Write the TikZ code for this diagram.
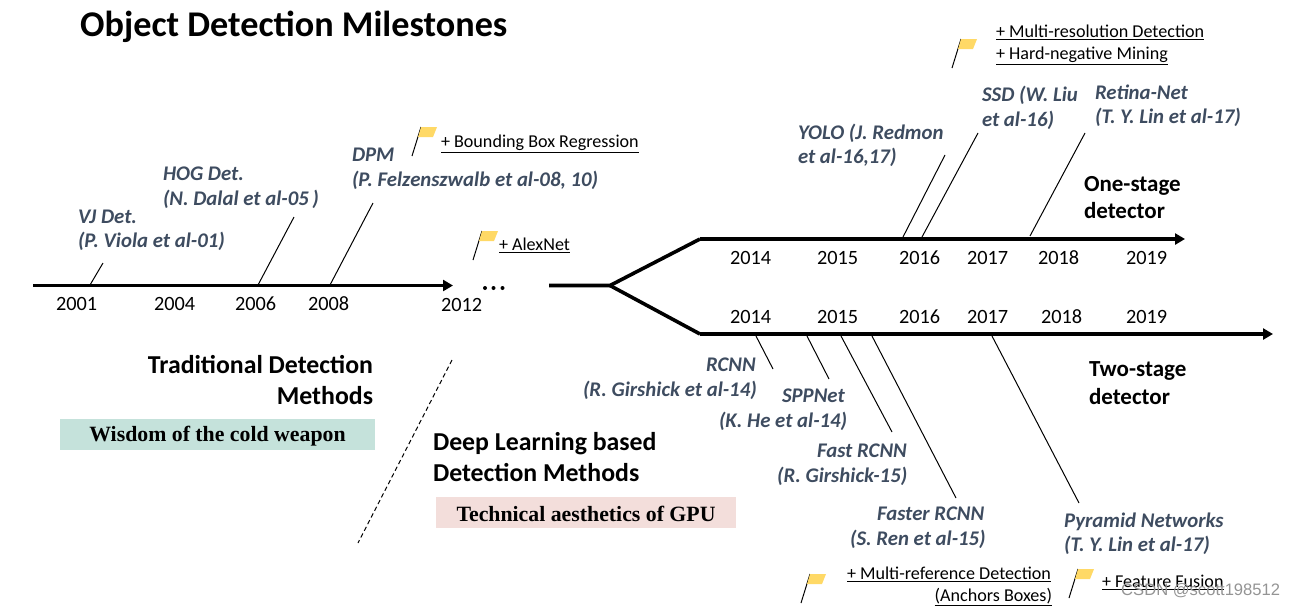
\documentclass[tikz,border=0pt]{standalone}
\usepackage{fontspec}
\setmainfont{Carlito}
\newfontfamily\serifbf{Liberation Serif}
\newfontfamily\wmfont{Liberation Sans}
\usetikzlibrary{arrows.meta}
\definecolor{slate}{HTML}{3E4C60}
\definecolor{flagc}{HTML}{FFD966}
\definecolor{bandg}{HTML}{C5E2DB}
\definecolor{bandr}{HTML}{F3DEDB}
\newcommand{\flagmark}[3]{%
  \begin{scope}[shift={(#1,#2)}]
    \coordinate (#3b) at (0,0);
    \coordinate (#3t) at (9,-29);
    \draw[lead] (#3b) -- (#3t);
    \fill[flagc] (9,-29) -- (25,-29) -- (21,-19) -- (6,-19) -- cycle;
  \end{scope}}
\tikzset{
  x=1pt,y=-1pt,
  lab/.style={anchor=base west,inner sep=0pt,outer sep=0pt,yshift=-0.7pt,text=slate,font=\fontsize{20.8}{20.8}\selectfont\bfseries\itshape},
  year/.style={anchor=base west,inner sep=0pt,outer sep=0pt,yshift=-0.7pt,font=\fontsize{20.3}{20.3}\selectfont},
  note/.style={anchor=base west,inner sep=0pt,outer sep=0pt,yshift=-0.5pt,font=\fontsize{18.1}{18.1}\selectfont},
  head/.style={anchor=base west,inner sep=0pt,outer sep=0pt,font=\fontsize{25.8}{25.8}\selectfont\bfseries},
  sub/.style={anchor=base west,inner sep=0pt,outer sep=0pt,yshift=-0.5pt,font=\fontsize{23}{23}\selectfont\bfseries},
  band/.style={anchor=center,inner sep=0pt,yshift=-1pt,font=\serifbf\fontsize{21.8}{21.8}\selectfont\bfseries},
  axis/.style={line width=3.6pt,line join=miter},
  axisarrow/.style={axis,-{Triangle[length=10pt,width=11pt]}},
  lead/.style={line width=1pt,black}
}
\begin{document}
\begin{tikzpicture}
\useasboundingbox (0,0) rectangle (1295,606);
\node[anchor=base west,inner sep=0pt,font=\fontsize{36.2}{36.2}\selectfont\bfseries] (title) at (80,36) {Object Detection Milestones};

% main axes
\coordinate (a0) at (33,285.5); \coordinate (a1) at (453,285.5);
\coordinate (b0) at (549,285.5); \coordinate (fork) at (610,285.5);
\coordinate (u0) at (700,239); \coordinate (u1) at (1185,239);
\coordinate (d0) at (700,334); \coordinate (d1) at (1273,334);
\draw[axisarrow] (a0) -- (a1);
\draw[axis] (b0) -- (fork) -- (u0);
\draw[axis] (fork) -- (d0);
\draw[axisarrow] (u0) -- (u1);
\draw[axisarrow] (d0) -- (d1);

% dots
\fill (485,288) circle (2) (493.5,288) circle (2) (502.5,288) circle (2);

% years
\foreach \n/\x/\y/\t in {y1/56/310/2001,y2/154/310/2004,y3/235/310/2006,y4/308/310/2008,y5/441/311/2012,
  y6/730/264/2014,y7/817/264/2015,y8/899/264/2016,y9/967/264/2017,y10/1038/264/2018,y11/1126/264/2019,
  y12/730/323/2014,y13/817/323/2015,y14/899/323/2016,y15/967/323/2017,y16/1041/323/2018,y17/1126/323/2019}
  \node[year] (\n) at (\x,\y) {\t};

% labels, left
\node[lab] (l1a) at (78,223) {VJ Det.};
\node[lab] (l1b) at (78,247) {(P. Viola et al-01)};
\node[lab] (l2a) at (163,180) {HOG Det.};
\node[lab] (l2b) at (163,205) {(N. Dalal et al-05\,)};
\node[lab] (l3a) at (352,161) {DPM};
\node[lab] (l3b) at (352,186) {(P. Felzenszwalb et al-08, 10)};

% labels, upper right
\node[lab] (l4a) at (798,139) {YOLO (J. Redmon};
\node[lab] (l4b) at (798,163) {et al-16,17)};
\node[lab] (l5a) at (982,101) {SSD (W. Liu};
\node[lab] (l5b) at (982,126) {et al-16)};
\node[lab] (l6a) at (1095,99) {Retina-Net};
\node[lab] (l6b) at (1095,123) {(T. Y. Lin et al-17)};

% labels, lower right
\node[lab] (l7a) at (706,371) {RCNN};
\node[lab] (l7b) at (583,396) {(R. Girshick et al-14)};
\node[lab] (l8a) at (782,402) {SPPNet};
\node[lab] (l8b) at (719,427) {(K. He et al-14)};
\node[lab] (l9a) at (817,457) {Fast RCNN};
\node[lab] (l9b) at (777,482) {(R. Girshick-15)};
\node[lab] (l10a) at (877,520) {Faster RCNN};
\node[lab] (l10b) at (850,545) {(S. Ren et al-15)};
\node[lab] (l11a) at (1064,527) {Pyramid Networks};
\node[lab] (l11b) at (1064,551) {(T. Y. Lin et al-17)};

% leaders
\foreach \n/\ax/\ay/\bx/\by in {1/90/285/103/263,2/258/285/294/217,3/330/285/373/203,
  4/903/237/945/155,5/922/237/978/133,6/1030/236/1085/133,
  7/756/336/773/369,8/807/336/829/379,9/841/336/892/432,10/872/336/956/498,11/992/336/1079/503}{
  \coordinate (p\n) at (\ax,\ay); \coordinate (q\n) at (\bx,\by);
  \draw[lead] (p\n) -- (q\n);
}

% section headings
\node[head,anchor=base east] (h1) at (373,373) {Traditional Detection};
\node[head,anchor=base east] (h2) at (373,404) {Methods};
\node[head] (h3) at (433,450) {Deep Learning based};
\node[head] (h4) at (433,481) {Detection Methods};
\node[sub] (s1) at (1084,191) {One-stage};
\node[sub] (s2) at (1084,218) {detector};
\node[sub] (s3) at (1089,376) {Two-stage};
\node[sub] (s4) at (1089,404) {detector};

% bands
\fill[bandg] (60,419) rectangle (375,450);
\fill[bandr] (436,497) rectangle (736,528);
\node[band] (b1) at (217.5,435) {Wisdom of the cold weapon};
\node[band] (b2) at (586,512.5) {Technical aesthetics of GPU};

% dashed divider
\coordinate (dv0) at (452,360); \coordinate (dv1) at (358,543);
\draw[line width=1pt,dash pattern=on 4.5pt off 3pt] (dv0) -- (dv1);

% flags
\flagmark{412}{156}{fa}
\flagmark{473}{260}{fb}
\flagmark{952}{68}{fc}
\flagmark{801}{603}{fd}
\flagmark{1069}{598}{fe}

% flag notes
\node[note] (n1) at (441,147) {\underline{+ Bounding Box Regression}};
\node[note] (n2) at (499,250) {\underline{+ AlexNet}};
\node[note] (n3) at (996,37) {\underline{+ Multi-resolution Detection}};
\node[note] (n4) at (996,59) {\underline{+ Hard-negative Mining}};
\node[note] (n5) at (847,579) {\underline{+ Multi-reference Detection}};
\node[note,anchor=base east] (n6) at (1052,601) {\underline{(Anchors Boxes)}};
\node[note] (n7) at (1102,587) {\underline{+ Feature Fusion}};

% watermark
\node[anchor=base west,inner sep=0pt,text=black!42,font=\wmfont\fontsize{16.6}{16.6}\selectfont] (wm) at (1121,595) {CSDN @scott198512};
\end{tikzpicture}
\end{document}
